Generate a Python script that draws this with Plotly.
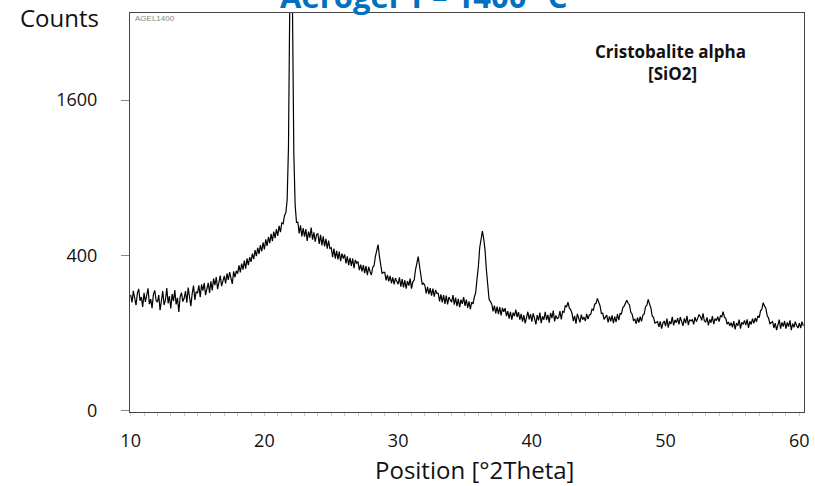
import numpy as np
import plotly.graph_objects as go

TWO_THETA_START = 10.0
TWO_THETA_STEP = 0.1

counts = [
    223, 195, 239, 209, 185, 229, 247, 201, 215, 179,   # 10
    231, 197, 221, 249, 189, 207, 175, 225, 241, 203,   # 11
    196, 222, 168, 214, 238, 186, 204, 250, 192, 218,   # 12
    174, 226, 200, 242, 188, 212, 162, 216, 232, 198,   # 13
    210, 238, 194, 252, 218, 182, 228, 260, 204, 236,   # 14
    230, 261, 214, 265, 240, 271, 222, 251, 272, 231,   # 15
    278, 241, 290, 262, 297, 246, 276, 303, 258, 282,   # 16
    302, 269, 313, 284, 319, 292, 267, 323, 296, 325,   # 17
    312, 351, 318, 359, 331, 374, 335, 385, 352, 392,   # 18
    368, 410, 382, 428, 397, 441, 409, 456, 421, 470,   # 19
    432, 487, 451, 501, 466, 519, 478, 532, 494, 547,   # 20
    508, 567, 530, 585, 580, 631, 650, 735, 1150, 2800, # 21
    3900, 2700, 1100, 700, 589, 590, 522, 570, 505, 553,  # 22
    503, 548, 479, 532, 497, 557, 486, 528, 474, 515,   # 23
    520, 462, 513, 454, 505, 448, 490, 436, 480, 437,   # 24
    441, 392, 437, 384, 425, 380, 420, 372, 410, 385,   # 25
    406, 360, 396, 352, 388, 348, 385, 338, 378, 362,   # 26
    369, 328, 355, 322, 352, 315, 348, 305, 344, 322,   # 27
    306, 342, 349, 395, 422, 458, 396, 352, 312, 318,   # 28
    318, 282, 306, 278, 302, 270, 295, 265, 292, 278,   # 29
    266, 295, 256, 288, 253, 283, 248, 279, 260, 290,   # 30
    248, 276, 284, 330, 362, 394, 348, 308, 265, 270,   # 31
    261, 229, 255, 226, 250, 220, 248, 216, 242, 229,   # 32
    229, 199, 225, 195, 222, 190, 220, 188, 215, 204,   # 33
    196, 222, 187, 213, 182, 208, 178, 205, 190, 215,   # 34
    183, 205, 176, 199, 172, 196, 190, 215, 232, 290,   # 35
    345, 441, 503, 536, 490, 428, 330, 268, 206, 198,   # 36
    190, 164, 184, 158, 180, 155, 179, 151, 176, 163,   # 37
    175, 149, 165, 141, 163, 138, 160, 149, 170, 146,   # 38
    162, 138, 156, 132, 152, 127, 149, 163, 139, 155,   # 39
    132, 158, 142, 124, 152, 136, 160, 128, 148, 138,   # 40
    163, 137, 153, 129, 159, 143, 167, 133, 151, 141,   # 41
    144, 165, 139, 164, 161, 183, 180, 196, 176, 170,   # 42
    158, 134, 150, 126, 156, 140, 130, 154, 138, 146,   # 43
    134, 156, 140, 153, 155, 172, 168, 189, 192, 210,   # 44
    195, 183, 157, 158, 139, 145, 152, 130, 148, 133,   # 45
    151, 128, 147, 131, 155, 137, 157, 156, 177, 182,   # 46
    196, 203, 192, 186, 161, 155, 136, 139, 126, 144,   # 47
    129, 147, 133, 152, 156, 180, 185, 206, 190, 176,   # 48
    149, 145, 128, 131, 132, 117, 133, 112, 128, 134,   # 49
    119, 141, 115, 133, 125, 147, 121, 137, 129, 143,   # 50
    124, 146, 130, 120, 142, 128, 150, 122, 138, 134,   # 51
    138, 124, 146, 132, 142, 154, 148, 136, 158, 134,   # 52
    131, 145, 121, 139, 129, 149, 125, 141, 135, 147,   # 53
    132, 150, 147, 163, 146, 142, 125, 131, 120, 129,   # 54
    116, 134, 110, 128, 120, 138, 112, 130, 124, 136,   # 55
    122, 139, 114, 133, 124, 141, 127, 143, 132, 150,   # 56
    144, 166, 172, 194, 182, 175, 150, 143, 126, 129,   # 57
    132, 114, 128, 108, 124, 138, 112, 130, 118, 134,   # 58
    112, 130, 118, 136, 108, 126, 116, 132, 120, 114,   # 59
    128, 114, 132, 120,                                 # 60
]

y_tick_values = [0, 400, 1600]
y_tick_labels = ["0", "400", "1600"]
x_tick_values = [10, 20, 30, 40, 50, 60]

two_theta = np.round(TWO_THETA_START + TWO_THETA_STEP * np.arange(len(counts)), 2)
sqrt_counts = np.sqrt(np.array(counts, dtype=float))  # square-root intensity scale

W, H = 815, 486
L, R, T, B = 130, 11, 13, 74
PW, PH = W - L - R, H - T - B


def px(xp):
    return (xp - L) / PW


def py(yp):
    return (H - B - yp) / PH


FONT = "Open Sans"

fig = go.Figure()
fig.add_trace(go.Scatter(
    x=two_theta, y=sqrt_counts, mode="lines",
    line=dict(color="#000000", width=1.2), hoverinfo="skip", showlegend=False,
))

fig.update_layout(
    width=W, height=H, autosize=False,
    margin=dict(l=L, r=R, t=T, b=B, pad=0, autoexpand=False),
    paper_bgcolor="white", plot_bgcolor="white",
    font=dict(family=FONT, color="#111111"),
    xaxis=dict(
        range=[9.95, 60.35], tickvals=x_tick_values, automargin=False,
        ticks="", showgrid=False, zeroline=False,
        showline=True, linecolor="#444444", linewidth=1, mirror=True,
        tickfont=dict(size=18, family=FONT, color="#111111"),
        ticklabelstandoff=12,
        minor=dict(ticks="outside", dtick=1, ticklen=3, tickcolor="#cccccc", showgrid=False),
    ),
    yaxis=dict(
        range=[-0.13, 51.2], automargin=False,
        tickvals=list(np.sqrt(y_tick_values)), ticktext=y_tick_labels,
        ticks="outside", ticklen=8, tickcolor="#888888", tickwidth=1,
        showgrid=False, zeroline=False,
        showline=True, linecolor="#444444", linewidth=1, mirror=True,
        tickfont=dict(size=18, family=FONT, color="#111111"),
        ticklabelstandoff=20,
    ),
)

annotations = [
    dict(text="Aerogel 1 – 1400 °C", x=px(424), y=py(-4), xanchor="center", yanchor="middle",
         font=dict(size=31, family=FONT, color="#0070C0", weight="bold")),
    dict(text="Counts", x=px(59), y=py(17), xanchor="center", yanchor="middle",
         font=dict(size=24, family=FONT, color="#111111")),
    dict(text="Position [°2Theta]", x=px(474), y=py(469), xanchor="center", yanchor="middle",
         font=dict(size=24, family=FONT, color="#111111")),
    dict(text="<b>Cristobalite alpha</b>", x=px(670), y=py(51), xanchor="center", yanchor="middle",
         font=dict(size=17, family=FONT, color="#111111")),
    dict(text="<b>[SiO2]</b>", x=px(672), y=py(73), xanchor="center", yanchor="middle",
         font=dict(size=17, family=FONT, color="#111111")),
    dict(text="AGEL1400", x=px(133), y=py(18), xanchor="left", yanchor="middle",
         font=dict(size=8, family="Liberation Sans", color="#888888")),
]
for a in annotations:
    a.update(xref="paper", yref="paper", showarrow=False)
fig.update_layout(annotations=annotations)

fig.write_html("out.html")
